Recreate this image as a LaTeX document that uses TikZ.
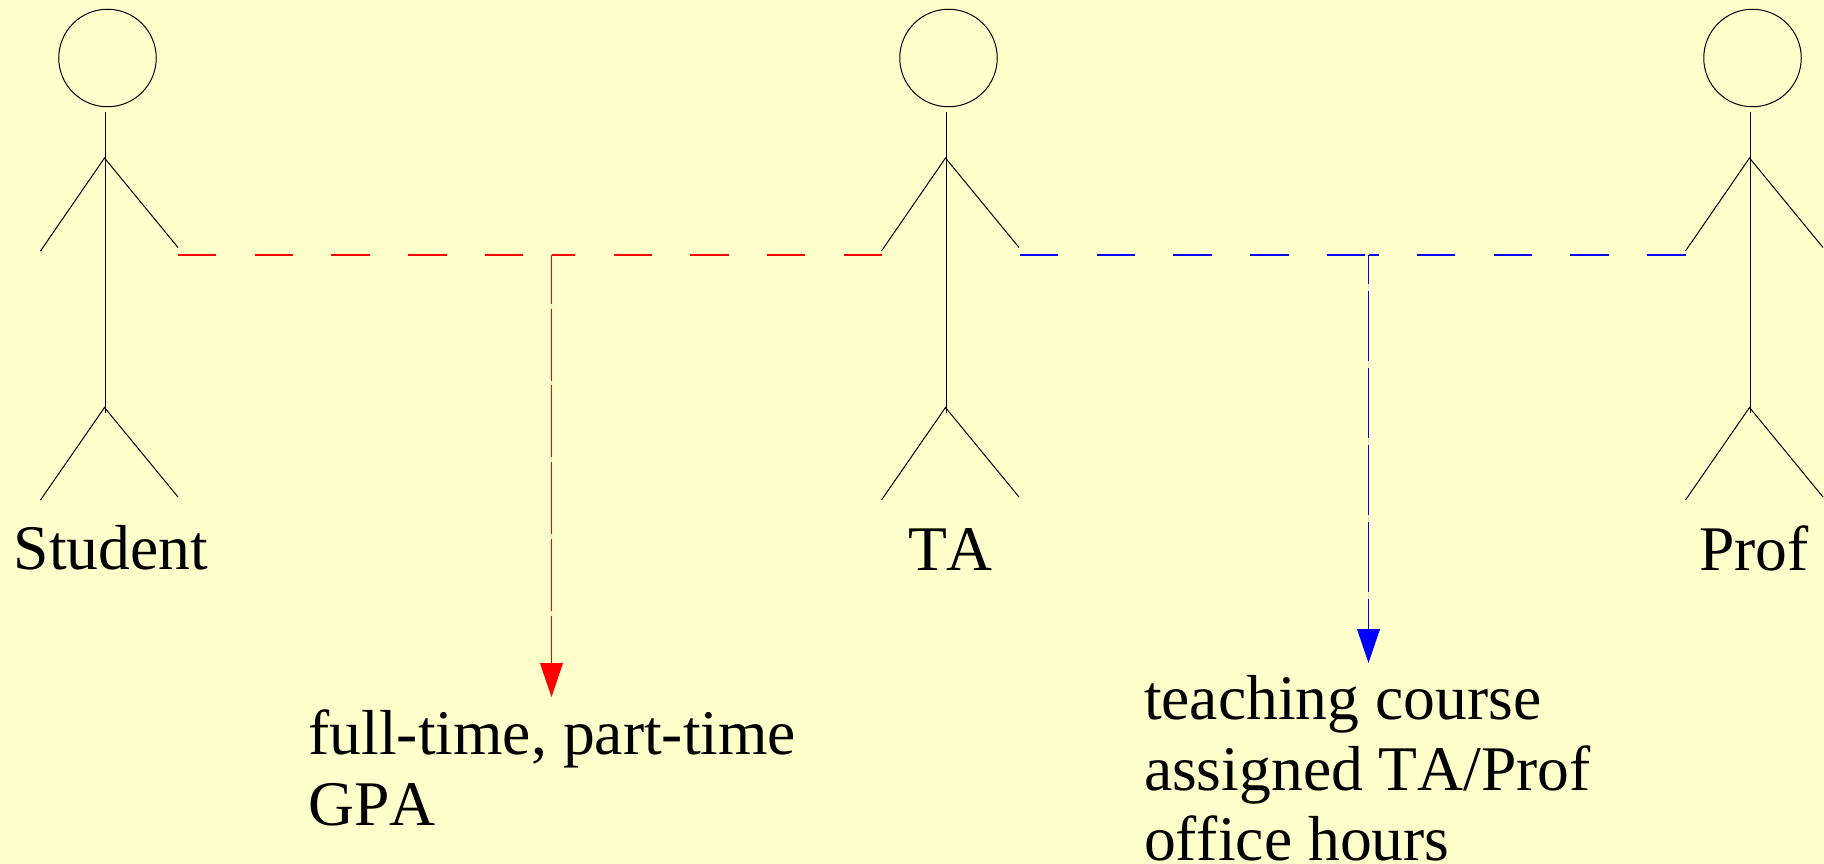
\documentclass[tikz,border=0pt]{standalone}
\usepackage{fontspec}
\setmainfont[Kerning=Off]{Liberation Serif}
\usetikzlibrary{arrows.meta}
\definecolor{paper}{HTML}{FFFFCC}
\tikzset{
  x=1pt,y=-1pt,
  figline/.style={draw=black,line width=1pt},
  headshape/.style={circle,draw=black,line width=1pt,minimum size=97.5pt,inner sep=0pt},
  label/.style={font=\fontsize{63.6}{71}\selectfont,inner sep=0pt,outer sep=0pt,anchor=base west,text=black},
  flowh/.style={line width=1.4pt,dash pattern=on 38.4pt off 38.3pt},
  flowv/.style={line width=1.4pt},
  tip/.style={-{Triangle[length=34pt,width=22.8pt]}},
}
\begin{document}
\begin{tikzpicture}
\useasboundingbox[fill=paper] (0,0) rectangle (1824,864);
\foreach \n/\dx in {student/0,ta/841,prof/1645}{
  \begin{scope}[shift={(\dx,0)}]
    \node[headshape] (\n-head) at (107.5,58) {};
    \coordinate (\n-neck) at (105.5,112.5);
    \coordinate (\n-hip) at (105.5,413);
    \coordinate (\n-sh) at (104.5,158);
    \coordinate (\n-fork) at (104.5,407.5);
    \coordinate (\n-lh) at (40.5,251);
    \coordinate (\n-rh) at (178,247.5);
    \coordinate (\n-lf) at (40.5,500);
    \coordinate (\n-rf) at (178,497);
    \draw[figline] (\n-neck) -- (\n-hip);
    \draw[figline] (\n-lh) -- (\n-sh) -- (\n-rh);
    \draw[figline] (\n-lf) -- (\n-fork) -- (\n-rf);
  \end{scope}
}
\coordinate (rstart) at (178,255);
\coordinate (rmid) at (551.5,255);
\coordinate (rend) at (882,255);
\coordinate (rtip) at (551.5,697);
\coordinate (bstart) at (1020,255);
\coordinate (bmid) at (1368.5,255);
\coordinate (bend) at (1685.5,255);
\coordinate (btip) at (1368.5,663);
\draw[flowh,draw=red] (rstart) -- (rmid);
\draw[flowh,draw=red] (rend) -- (rmid);
\draw[flowh,draw=blue] (bstart) -- (bmid);
\draw[flowh,draw=blue] (bend) -- (bmid);
\draw[flowv,red,fill=red,tip,dash pattern=on 72pt off 4.7pt,dash phase=23pt] (rmid) -- (rtip);
\draw[flowv,blue,fill=blue,tip,dash pattern=on 70pt off 7pt,dash phase=41pt] (bmid) -- (btip);
\node[label] (lstudent) at (13.8,569) {Student};
\node[label] (lta) at (908,570) {TA};
\node[label] (lprof) at (1699.4,570) {Prof};
\node[label] (lr1) at (308.6,754) {full-time, part-time};
\node[label] (lr2) at (308.6,825) {GPA};
\node[label] (lb1) at (1144,719) {teaching course};
\node[label] (lb2) at (1144,790) {assigned TA/Prof};
\node[label] (lb3) at (1144,860) {office hours};
\end{tikzpicture}
\end{document}
